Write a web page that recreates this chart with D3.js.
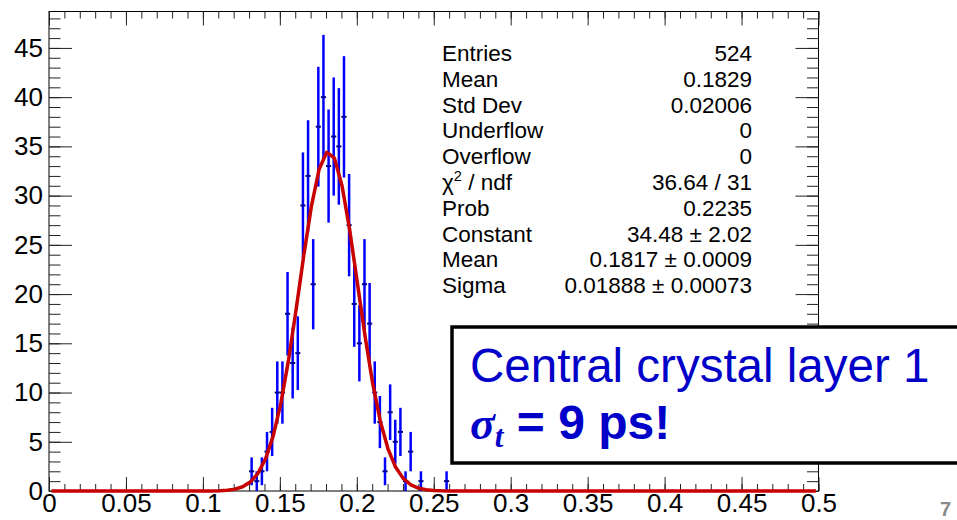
<!DOCTYPE html>
<html>
<head>
<meta charset="utf-8">
<script src="https://cdn.jsdelivr.net/npm/d3@7"></script>
<style>
  html, body { margin: 0; padding: 0; background: #fff; }
  svg { display: block; font-family: "Liberation Sans", Arial, Helvetica, sans-serif; }
</style>
</head>
<body>
<svg id="chart" width="957" height="520"></svg>
<script>
// Histogram: 150 bins over [0, 0.5]; counts listed from the first filled bin onward
const nBins = 150;
const xRange = [0, 0.5];
const firstBin = 39;
const counts = [2, 1, 2, 4, 6, 10, 10, 18, 13, 14,
                29, 32, 21, 37, 40, 33, 36, 35, 38, 27,
                19, 15, 21, 17, 10, 7, 2, 8, 5, 6,
                1, 4, 0, 1, 0, 0, 0, 0, 1];

// Gaussian fit parameters
const fitConstant = 34.48;
const fitMean = 0.1817;
const fitSigma = 0.01888;
const fitPoints = 100;

// Axis ticks
const xMajorTicks = [0, 0.05, 0.1, 0.15, 0.2, 0.25, 0.3, 0.35, 0.4, 0.45, 0.5];
const xTickLabels = ["0", "0.05", "0.1", "0.15", "0.2", "0.25", "0.3", "0.35", "0.4", "0.45", "0.5"];
const yMajorTicks = [0, 5, 10, 15, 20, 25, 30, 35, 40, 45];
const yMax = 48.7;

// Statistics panel rows
const statLabels = ["Entries", "Mean", "Std Dev", "Underflow", "Overflow", "chi2", "Prob", "Constant", "Mean", "Sigma"];
const statValues = ["524", "0.1829", "0.02006", "0", "0", "36.64 / 31", "0.2235",
                    "34.48 \u00b1 2.02", "0.1817 \u00b1 0.0009", "0.01888 \u00b1 0.00073"];

const svg = d3.select("#chart");

const frame = { left: 49, right: 818.5, top: 11.5, bottom: 491 };
const x = d3.scaleLinear().domain(xRange).range([frame.left, frame.right]);
const y = d3.scaleLinear().domain([0, yMax]).range([frame.bottom, frame.top]);

const binWidth = (xRange[1] - xRange[0]) / nBins;
const points = counts
  .map((c, i) => ({ bin: firstBin + i, count: c }))
  .filter(d => d.count > 0)
  .map(d => ({
    lo: xRange[0] + d.bin * binWidth,
    hi: xRange[0] + (d.bin + 1) * binWidth,
    center: xRange[0] + (d.bin + 0.5) * binWidth,
    count: d.count,
    err: Math.sqrt(d.count)
  }));

// Frame
svg.append("rect")
  .attr("x", frame.left).attr("y", frame.top)
  .attr("width", frame.right - frame.left).attr("height", frame.bottom - frame.top)
  .attr("fill", "none").attr("stroke", "#000").attr("stroke-width", 1);

// Axes with inward ticks
function styleAxis(g, fontSize) {
  g.select(".domain").remove();
  g.selectAll(".tick line").attr("stroke", "#222").attr("stroke-width", 1);
  g.selectAll(".tick text").attr("fill", "#000").attr("font-size", fontSize)
    .attr("font-family", "Liberation Sans, Arial, Helvetica, sans-serif");
}
const xMinor = d3.range(0, 51).map(i => i / 100);
const yMinor = d3.range(0, 49);

// bottom
svg.append("g").attr("transform", `translate(0,${frame.bottom})`)
  .call(d3.axisBottom(x).tickValues(xMinor).tickSize(-7).tickFormat(""))
  .call(g => styleAxis(g, 0));
svg.append("g").attr("transform", `translate(0,${frame.bottom})`)
  .call(d3.axisBottom(x).tickValues(xMajorTicks).tickSize(-14).tickPadding(3)
        .tickFormat((d, i) => xTickLabels[i]))
  .call(g => styleAxis(g, 26));
// top
svg.append("g").attr("transform", `translate(0,${frame.top})`)
  .call(d3.axisTop(x).tickValues(xMinor).tickSize(-7).tickFormat(""))
  .call(g => styleAxis(g, 0));
svg.append("g").attr("transform", `translate(0,${frame.top})`)
  .call(d3.axisTop(x).tickValues(xMajorTicks).tickSize(-14).tickFormat(""))
  .call(g => styleAxis(g, 0));
// left
svg.append("g").attr("transform", `translate(${frame.left},0)`)
  .call(d3.axisLeft(y).tickValues(yMinor).tickSize(-11.5).tickFormat(""))
  .call(g => styleAxis(g, 0));
svg.append("g").attr("transform", `translate(${frame.left},0)`)
  .call(d3.axisLeft(y).tickValues(yMajorTicks).tickSize(-23).tickPadding(6).tickFormat(d3.format("d")))
  .call(g => styleAxis(g, 26));
// right
svg.append("g").attr("transform", `translate(${frame.right},0)`)
  .call(d3.axisRight(y).tickValues(yMinor).tickSize(-11.5).tickFormat(""))
  .call(g => styleAxis(g, 0));
svg.append("g").attr("transform", `translate(${frame.right},0)`)
  .call(d3.axisRight(y).tickValues(yMajorTicks).tickSize(-23).tickFormat(""))
  .call(g => styleAxis(g, 0));

// Data points with error bars
const pts = svg.append("g");
pts.selectAll("line.ey").data(points).join("line")
  .attr("class", "ey")
  .attr("x1", d => x(d.center)).attr("x2", d => x(d.center))
  .attr("y1", d => y(d.count - d.err)).attr("y2", d => y(d.count + d.err))
  .attr("stroke", "#0000ff").attr("stroke-width", 2.5);
pts.selectAll("line.ex").data(points).join("line")
  .attr("class", "ex")
  .attr("x1", d => x(d.lo)).attr("x2", d => x(d.hi))
  .attr("y1", d => y(d.count)).attr("y2", d => y(d.count))
  .attr("stroke", "#00008c").attr("stroke-width", 2);

// Gaussian fit curve
const fitLo = xRange[0] + binWidth / 2;
const fitHi = xRange[1] - binWidth / 2;
const fitCurve = d3.range(fitPoints + 1).map(k => {
  const xv = fitLo + (fitHi - fitLo) * k / fitPoints;
  const z = (xv - fitMean) / fitSigma;
  return [xv, fitConstant * Math.exp(-0.5 * z * z)];
});
svg.append("path")
  .datum(fitCurve)
  .attr("d", d3.line().x(d => x(d[0])).y(d => y(d[1])))
  .attr("fill", "none").attr("stroke", "#c80000").attr("stroke-width", 3.5)
  .attr("stroke-linejoin", "round");

// Statistics panel
const stats = svg.append("g").attr("font-size", 22.5).attr("fill", "#000");
statLabels.forEach((lab, i) => {
  const yy = 61 + i * 25.8;
  const t = stats.append("text").attr("x", 442).attr("y", yy);
  if (lab === "chi2") {
    t.append("tspan").text("\u03c7");
    t.append("tspan").attr("font-size", 14.5).attr("dy", -9).text("2");
    t.append("tspan").attr("dy", 9).text(" / ndf");
  } else {
    t.text(lab);
  }
  stats.append("text").attr("x", 752).attr("y", yy).attr("text-anchor", "end").text(statValues[i]);
});

// Annotation box
svg.append("rect")
  .attr("x", 452).attr("y", 327).attr("width", 560).attr("height", 136)
  .attr("fill", "#fff").attr("stroke", "#000").attr("stroke-width", 3.5);
svg.append("text")
  .attr("x", 470).attr("y", 382)
  .attr("font-size", 47.5).attr("fill", "#0000c8")
  .text("Central crystal layer 1");
const sig = svg.append("text").attr("x", 470).attr("y", 439).attr("fill", "#0000c8");
sig.append("tspan")
  .attr("font-family", "Liberation Serif, Times New Roman, serif")
  .attr("font-style", "italic").attr("font-weight", "bold").attr("font-size", 46)
  .text("\u03c3");
sig.append("tspan")
  .attr("font-family", "Liberation Serif, Times New Roman, serif")
  .attr("font-style", "italic").attr("font-weight", "bold").attr("font-size", 31)
  .attr("dy", 8).text("t");
sig.append("tspan")
  .attr("font-weight", "bold").attr("font-size", 48)
  .attr("dy", -8).text(" = 9 ps!");

// Page number
svg.append("text")
  .attr("x", 940).attr("y", 516)
  .attr("font-size", 20).attr("font-weight", "bold").attr("fill", "#8a8a8a")
  .text("7");
</script>
</body>
</html>
